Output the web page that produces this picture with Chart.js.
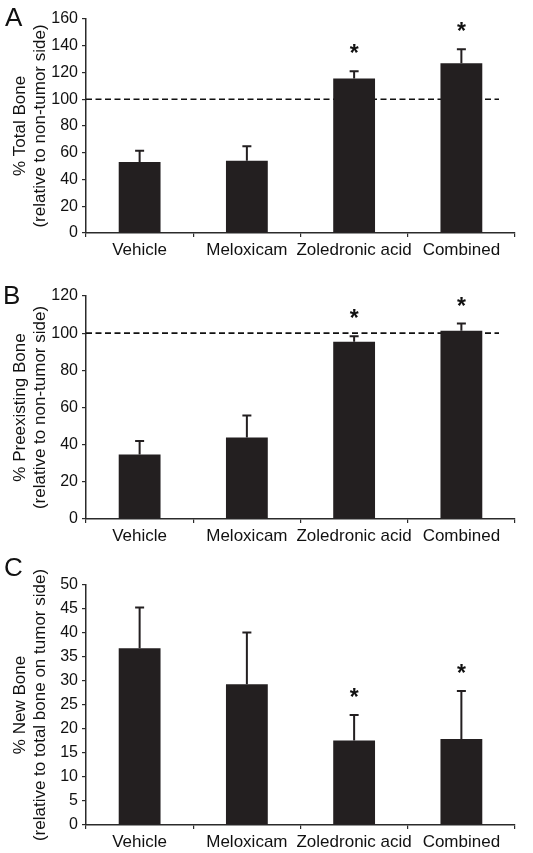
<!DOCTYPE html>
<html>
<head>
<meta charset="utf-8">
<script src="https://cdn.jsdelivr.net/npm/chart.js@4"></script>
<style>
  body { margin: 0; background: #fff; width: 533px; height: 853px; position: relative; overflow: hidden; }
  .panel { position: absolute; left: 0; width: 533px; }
  .letter { position: absolute; font-family: 'Liberation Sans', Arial, sans-serif; font-size: 26px; line-height: 26px; color: #111; }
</style>
</head>
<body>
<div class="panel" style="top:0px;height:280px"><canvas id="chartA"></canvas></div>
<div class="panel" style="top:280px;height:280px"><canvas id="chartB"></canvas></div>
<div class="panel" style="top:560px;height:293px"><canvas id="chartC"></canvas></div>
<div class="letter" style="left:5px;top:4px">A</div>
<div class="letter" style="left:3px;top:282px">B</div>
<div class="letter" style="left:4px;top:554px">C</div>
<script>
// groups
var categories = ['Vehicle', 'Meloxicam', 'Zoledronic acid', 'Combined'];

// A: % total bone (relative to non-tumor side)
var totalBone = [53, 54, 115.5, 127];
var totalBoneErr = [8.5, 10.8, 5.5, 10.4];
var totalBoneSig = [false, false, true, true];

// B: % preexisting bone
var preBone = [34.7, 43.9, 95.4, 101.3];
var preBoneErr = [7.3, 11.8, 3, 3.9];
var preBoneSig = [false, false, true, true];

// C: % new bone
var newBone = [36.8, 29.3, 17.6, 17.9];
var newBoneErr = [8.5, 10.8, 5.3, 10];
var newBoneSig = [false, false, true, true];

var fontFamily = "'Liberation Sans', Arial, sans-serif";
var ink = '#231f20';
var axisColor = '#2b2b2b';

var errorBarPlugin = {
    id: 'errorBars',
    beforeDatasetsDraw: function(chart, args, opts) {
        if(opts.refLine == null) return;
        var ctx = chart.ctx;
        var area = chart.chartArea;
        var yPix = chart.scales.y.getPixelForValue(opts.refLine);
        ctx.save();
        ctx.strokeStyle = '#111';
        ctx.lineWidth = 1.6;
        ctx.setLineDash([6, 3.5]);
        ctx.beginPath();
        ctx.moveTo(area.left, yPix);
        ctx.lineTo(area.right - 16, yPix);
        ctx.stroke();
        ctx.restore();
    },
    afterDatasetsDraw: function(chart, args, opts) {
        var ctx = chart.ctx;
        var yScale = chart.scales.y;
        var values = chart.data.datasets[0].data;
        var meta = chart.getDatasetMeta(0);
        ctx.save();
        ctx.strokeStyle = ink;
        ctx.lineWidth = 2;
        meta.data.forEach(function(bar, i) {
            var x = bar.x;
            var base = yScale.getPixelForValue(values[i]);
            var top = yScale.getPixelForValue(values[i] + opts.errors[i]);
            ctx.beginPath();
            ctx.moveTo(x, base);
            ctx.lineTo(x, top);
            ctx.moveTo(x - 4.5, top);
            ctx.lineTo(x + 4.5, top);
            ctx.stroke();
            if(opts.stars[i]) {
                ctx.fillStyle = '#111';
                ctx.font = 'bold 23px ' + fontFamily;
                ctx.textAlign = 'center';
                ctx.textBaseline = 'alphabetic';
                ctx.fillText('*', x, top - 23 + 13);
            }
        });
        ctx.restore();
    }
};

function makeChart(id, values, errors, stars, yMax, yStep, titleLines, refLine, padTop, xHeight) {
    var ctx = document.getElementById(id);
    return new Chart(ctx, {
        type: 'bar',
        data: {
            labels: categories,
            datasets: [{
                data: values,
                backgroundColor: ink,
                borderWidth: 0,
                categoryPercentage: 1,
                barPercentage: 0.39
            }]
        },
        options: {
            responsive: true,
            maintainAspectRatio: false,
            animation: false,
            layout: {
                padding: { top: padTop, right: 18, left: 0, bottom: 0 }
            },
            plugins: {
                legend: { display: false },
                tooltip: { enabled: false },
                errorBars: { errors: errors, stars: stars, refLine: refLine }
            },
            scales: {
                x: {
                    afterFit: function(scale) { scale.height = xHeight; },
                    border: { color: axisColor, width: 1.5 },
                    grid: {
                        offset: true,
                        drawOnChartArea: false,
                        drawTicks: true,
                        tickLength: 4,
                        color: axisColor,
                        lineWidth: 1.2
                    },
                    ticks: {
                        color: '#111',
                        padding: 3,
                        maxRotation: 0,
                        autoSkip: false,
                        font: { family: fontFamily, size: 17 }
                    }
                },
                y: {
                    min: 0,
                    max: yMax,
                    afterFit: function(scale) { scale.width = 86; },
                    border: { color: axisColor, width: 1.5 },
                    grid: {
                        drawOnChartArea: false,
                        drawTicks: true,
                        tickLength: 4,
                        color: axisColor,
                        lineWidth: 1.2
                    },
                    ticks: {
                        stepSize: yStep,
                        color: '#111',
                        padding: 4,
                        font: { family: fontFamily, size: 16 }
                    },
                    title: {
                        display: true,
                        text: titleLines,
                        color: '#111',
                        padding: { top: 11, bottom: 0 },
                        font: { family: fontFamily, size: 17, lineHeight: 1.15 }
                    }
                }
            }
        },
        plugins: [errorBarPlugin]
    });
}

makeChart('chartA', totalBone, totalBoneErr, totalBoneSig, 160, 20,
    ['% Total Bone', '(relative to non-tumor side)'], 100, 19, 47);
makeChart('chartB', preBone, preBoneErr, preBoneSig, 120, 20,
    ['% Preexisting Bone', '(relative to non-tumor side)'], 100, 16, 41);
makeChart('chartC', newBone, newBoneErr, newBoneSig, 50, 5,
    ['% New Bone', '(relative to total bone on tumor side)'], null, 25, 28);
</script>
</body>
</html>
